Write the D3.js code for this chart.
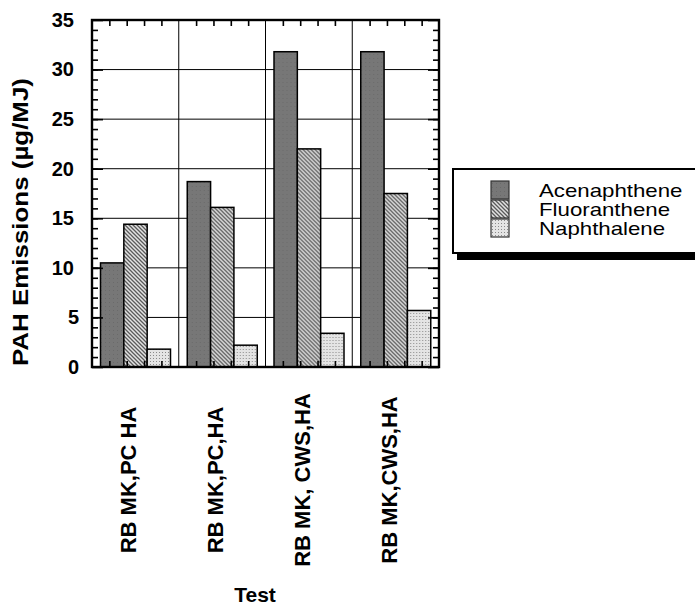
<!DOCTYPE html>
<html>
<head>
<meta charset="utf-8">
<script src="https://cdn.jsdelivr.net/npm/d3@7"></script>
<style>
  body { margin: 0; background: #fff; }
  text { font-family: "Liberation Sans", Arial, Helvetica, sans-serif; fill: #000; }
</style>
</head>
<body>
<svg width="695" height="606"></svg>
<script>
var categories = ["RB MK,PC HA", "RB MK,PC,HA", "RB MK, CWS,HA", "RB MK,CWS,HA"];
var seriesNames = ["Acenaphthene", "Fluoranthene", "Naphthalene"];
var acenaphthene = [10.5, 18.7, 31.8, 31.8];
var fluoranthene = [14.4, 16.1, 22.0, 17.5];
var naphthalene = [1.8, 2.2, 3.4, 5.7];
var yTicks = [0, 5, 10, 15, 20, 25, 30, 35];

var seriesValues = [acenaphthene, fluoranthene, naphthalene];
var rows = categories.map((c, i) => ({
    cat: c,
    vals: seriesNames.map((s, j) => ({ key: s, value: seriesValues[j][i] }))
}));

// plot frame (window.top is reserved, so use own names)
var plotL = 92, plotR = 439, plotT = 20, plotB = 367;
var svg = d3.select("svg");

// patterns for the three fills
var defs = svg.append("defs");
var pA = defs.append("pattern").attr("id", "fillA")
    .attr("patternUnits", "userSpaceOnUse").attr("width", 4).attr("height", 4);
pA.append("rect").attr("width", 4).attr("height", 4).attr("fill", "#777");
pA.append("rect").attr("x", 1).attr("y", 2).attr("width", 1).attr("height", 1).attr("fill", "#6a6a6a");

var pF = defs.append("pattern").attr("id", "fillF")
    .attr("patternUnits", "userSpaceOnUse").attr("width", 4).attr("height", 4);
pF.append("rect").attr("width", 4).attr("height", 4).attr("fill", "#e2e2e2");
pF.append("path").attr("d", "M0,0L4,4M-1,3L1,5M3,-1L5,1")
    .attr("stroke", "#5a5a5a").attr("stroke-width", 1.3);

var pN = defs.append("pattern").attr("id", "fillN")
    .attr("patternUnits", "userSpaceOnUse").attr("width", 3).attr("height", 3);
pN.append("rect").attr("width", 3).attr("height", 3).attr("fill", "#e4e4e4");
pN.append("rect").attr("x", 1).attr("y", 1).attr("width", 1).attr("height", 1).attr("fill", "#8a8a8a");

var fills = { "Acenaphthene": "url(#fillA)", "Fluoranthene": "url(#fillF)", "Naphthalene": "url(#fillN)" };

//scales
var yScale = d3.scaleLinear().domain([0, 35]).range([plotB, plotT]);
var x0 = d3.scaleBand().domain(categories).range([plotL, plotR]).padding(0);
var x1 = d3.scaleBand().domain(seriesNames).range([8.5, 78.5]).padding(0);

//gridlines behind the bars
svg.append("g").selectAll("line")
    .data(yTicks.filter(d => d > 0 && d < 35))
    .enter().append("line")
    .attr("x1", plotL).attr("x2", plotR)
    .attr("y1", d => yScale(d)).attr("y2", d => yScale(d))
    .attr("stroke", "#000").attr("stroke-width", 1);
svg.append("g").selectAll("line")
    .data(categories.slice(1))
    .enter().append("line")
    .attr("x1", d => x0(d)).attr("x2", d => x0(d))
    .attr("y1", plotT).attr("y2", plotB)
    .attr("stroke", "#000").attr("stroke-width", 1);

//bars
var groups = svg.append("g").selectAll("g")
    .data(rows).enter().append("g")
    .attr("transform", d => "translate(" + x0(d.cat) + ",0)");
groups.selectAll("rect")
    .data(d => d.vals).enter().append("rect")
    .attr("x", d => x1(d.key))
    .attr("y", d => yScale(d.value))
    .attr("width", x1.bandwidth())
    .attr("height", d => plotB - yScale(d.value))
    .attr("fill", d => fills[d.key])
    .attr("stroke", "#000").attr("stroke-width", 1.5);

//ticks on all four sides, pointing inward
function clean(g) { g.select(".domain").remove(); g.selectAll("line").attr("stroke-width", 1.6); }
var minor = d3.range(1, 35);
svg.append("g").attr("transform", "translate(" + plotL + ",0)")
    .call(d3.axisRight(yScale).tickValues(minor).tickSize(6).tickFormat("")).call(clean);
svg.append("g").attr("transform", "translate(" + plotL + ",0)")
    .call(d3.axisRight(yScale).tickValues(yTicks).tickSize(11).tickFormat("")).call(clean);
svg.append("g").attr("transform", "translate(" + plotR + ",0)")
    .call(d3.axisLeft(yScale).tickValues(minor).tickSize(6).tickFormat("")).call(clean);
svg.append("g").attr("transform", "translate(" + plotR + ",0)")
    .call(d3.axisLeft(yScale).tickValues(yTicks).tickSize(11).tickFormat("")).call(clean);

var xt = d3.scaleLinear().domain([0, 20]).range([plotL, plotR]);
var xtVals = d3.range(1, 20).filter(d => d % 5 !== 0);
svg.append("g").attr("transform", "translate(0," + plotT + ")")
    .call(d3.axisBottom(xt).tickValues(xtVals).tickSize(6).tickFormat("")).call(clean);
svg.append("g").attr("transform", "translate(0," + plotB + ")")
    .call(d3.axisTop(xt).tickValues(xtVals).tickSize(6).tickFormat("")).call(clean);

//y tick labels
var yLab = svg.append("g").attr("transform", "translate(" + plotL + ",0)")
    .call(d3.axisLeft(yScale).tickValues(yTicks).tickSize(0).tickPadding(18));
yLab.select(".domain").remove();
yLab.selectAll("text")
    .attr("dx", d => d < 10 ? 5 : 0)
    .style("font-size", "20px").style("font-weight", "bold")
    .style("font-family", "'Liberation Sans', Arial, sans-serif").attr("fill", "#000");

//frame
svg.append("rect")
    .attr("x", plotL).attr("y", plotT)
    .attr("width", plotR - plotL).attr("height", plotB - plotT)
    .attr("fill", "none").attr("stroke", "#000").attr("stroke-width", 2.4);

//category labels
svg.append("g").selectAll("text")
    .data(categories).enter().append("text")
    .attr("transform", d => "translate(" + (x0(d) + x0.bandwidth() / 2 + 1) + ",480) rotate(-90)")
    .attr("text-anchor", "middle")
    .style("font-size", "22px").style("font-weight", "bold")
    .text(d => d);

//axis titles
svg.append("text")
    .attr("x", 255).attr("y", 602)
    .attr("text-anchor", "middle")
    .style("font-size", "21px").style("font-weight", "bold")
    .text("Test");
svg.append("text")
    .attr("transform", "translate(28,222) rotate(-90)")
    .attr("text-anchor", "middle")
    .attr("textLength", 288).attr("lengthAdjust", "spacingAndGlyphs")
    .style("font-size", "22px").style("font-weight", "bold")
    .text("PAH Emissions (\u00b5g/MJ)");

//legend with drop shadow
var legend = svg.append("g");
legend.append("rect")
    .attr("x", 457).attr("y", 176).attr("width", 260).attr("height", 84)
    .attr("fill", "#000");
legend.append("rect")
    .attr("x", 453).attr("y", 169).attr("width", 260).attr("height", 84)
    .attr("fill", "#fff").attr("stroke", "#000").attr("stroke-width", 2);
var items = legend.selectAll(".item")
    .data(seriesNames).enter().append("g")
    .attr("transform", (d, i) => "translate(491," + (181 + i * 19) + ")");
items.append("rect")
    .attr("width", 18).attr("height", 18)
    .attr("fill", d => fills[d])
    .attr("stroke", "#333").attr("stroke-width", 1.2);
items.append("text")
    .attr("x", 48).attr("y", 15.5)
    .style("font-size", "19px")
    .text(d => d)
    .each(function() {
        var w = this.getComputedTextLength();
        d3.select(this).attr("textLength", w * 1.17).attr("lengthAdjust", "spacingAndGlyphs");
    });
</script>
</body>
</html>
